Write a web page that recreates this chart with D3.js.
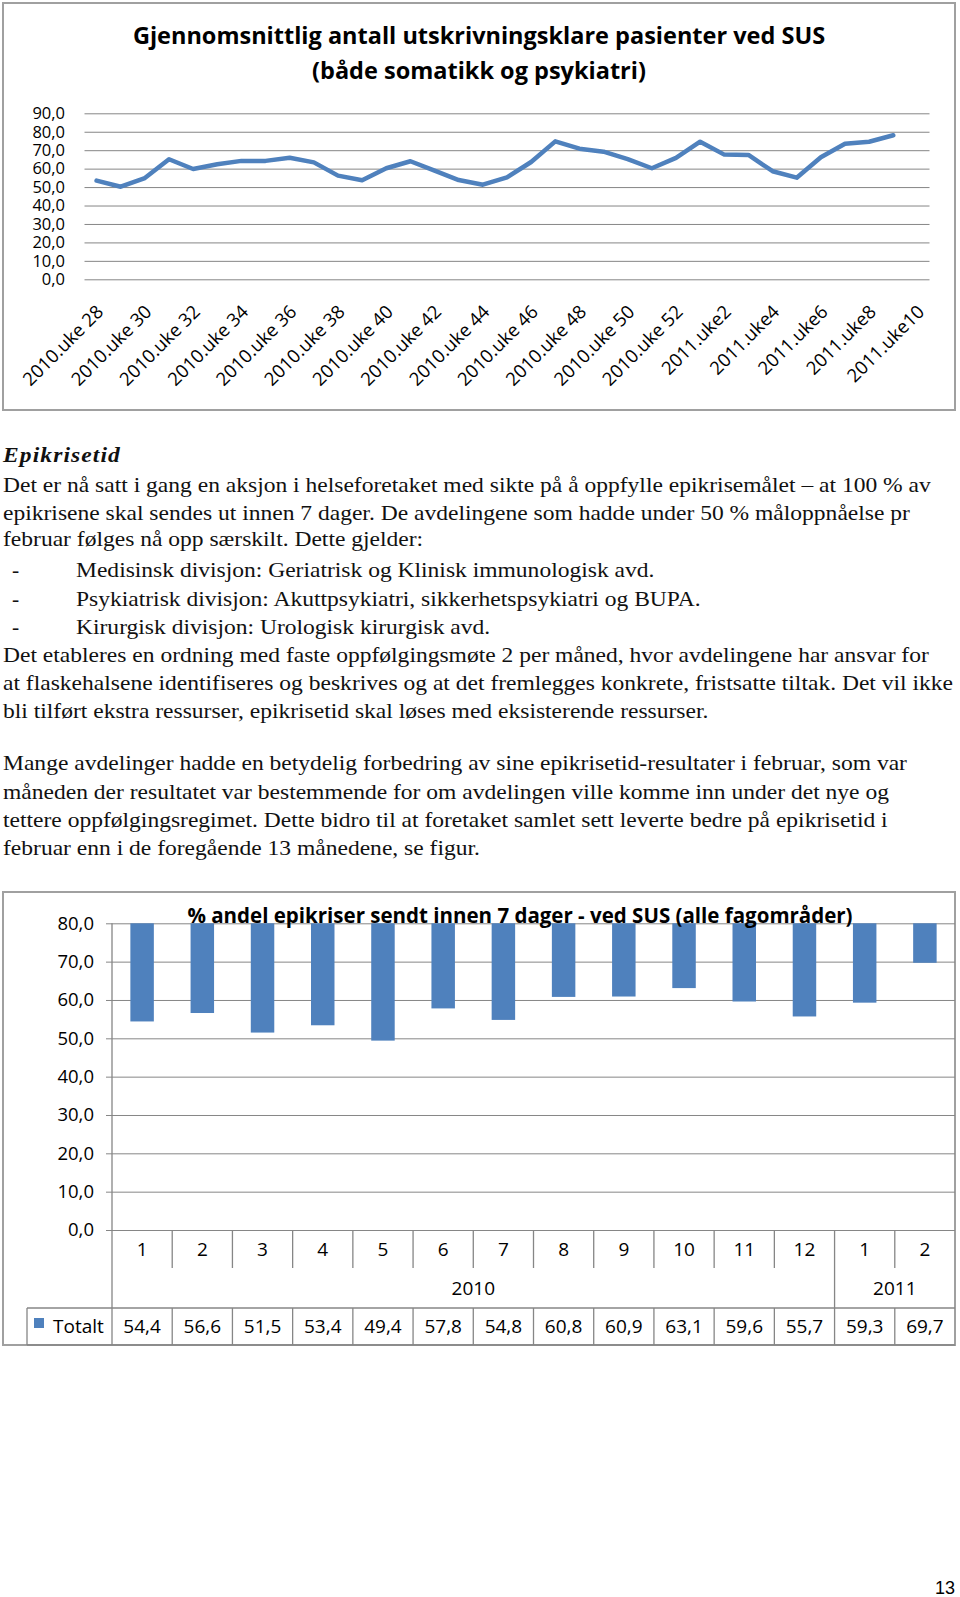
<!DOCTYPE html>
<html>
<head>
<meta charset="utf-8">
<script src="https://cdn.jsdelivr.net/npm/d3@7"></script>
<style>
  body { margin: 0; background: #fff; }
  svg text { font-family: "Open Sans", sans-serif; fill: #000; }
  .body-text text { font-family: "Liberation Serif", serif; fill: #111; font-size: 21.5px; }
  .grid line { stroke: #868686; stroke-width: 1; }
  .grid .domain { display: none; }
</style>
</head>
<body>
<svg id="page" width="960" height="1597"></svg>
<script>
// ---- chart 1: weekly average
const weekCats = [
  "2010.uke 28","2010.uke 29","2010.uke 30","2010.uke 31","2010.uke 32","2010.uke 33",
  "2010.uke 34","2010.uke 35","2010.uke 36","2010.uke 37","2010.uke 38","2010.uke 39",
  "2010.uke 40","2010.uke 41","2010.uke 42","2010.uke 43","2010.uke 44","2010.uke 45",
  "2010.uke 46","2010.uke 47","2010.uke 48","2010.uke 49","2010.uke 50","2010.uke 51",
  "2010.uke 52","2011.uke1","2011.uke2","2011.uke3","2011.uke4","2011.uke5",
  "2011.uke6","2011.uke7","2011.uke8","2011.uke9","2011.uke10"
];
const weekValues = [
  53.5, 50.2, 54.9, 65.1, 59.8, 62.4, 64.2, 64.2, 65.9, 63.4, 56.2, 53.7,
  60.2, 64.0, 58.9, 53.8, 51.3, 55.3, 63.6, 74.8, 70.8, 69.2, 65.1, 60.2,
  65.8, 74.6, 67.6, 67.4, 58.6, 55.1, 66.2, 73.5, 74.6, 78.1
];
const weekTicks = [0, 10, 20, 30, 40, 50, 60, 70, 80, 90];

// ---- chart 2: monthly share
const monthLabels = ["1","2","3","4","5","6","7","8","9","10","11","12","1","2"];
const yearLabels = ["2010", "2011"];
const yearMonths = [12, 2];
const shareValues = [54.4, 56.6, 51.5, 53.4, 49.4, 57.8, 54.8, 60.8, 60.9, 63.1, 59.6, 55.7, 59.3, 69.7];
const shareTicks = [0, 10, 20, 30, 40, 50, 60, 70, 80];

const blue = "#4f81bd";
const gridColor = "#868686";
const frameColor = "#a0a0a0";

const nb = d3.formatLocale({decimal: ",", thousands: " ", grouping: [3], currency: ["", ""]});
const fmt = nb.format(".1f");

const svg = d3.select("#page");

// ================= chart 1 =================
svg.append("rect")
  .attr("x", 3).attr("y", 3).attr("width", 952).attr("height", 407)
  .attr("fill", "none").attr("stroke", frameColor).attr("stroke-width", 2);

svg.append("text")
  .attr("x", 479).attr("y", 43.5)
  .attr("text-anchor", "middle")
  .style("font-weight", "bold").style("font-size", "23.5px")
  .text("Gjennomsnittlig antall utskrivningsklare pasienter ved SUS");
svg.append("text")
  .attr("x", 479).attr("y", 78.5)
  .attr("text-anchor", "middle")
  .style("font-weight", "bold").style("font-size", "23.5px")
  .text("(både somatikk og psykiatri)");

const x1 = d3.scaleBand().domain(weekCats).range([84.5, 929.5]);
const y1 = d3.scaleLinear().domain([0, 90]).range([279.3, 113.3]);

const g1 = svg.append("g")
  .attr("class", "grid")
  .attr("transform", "translate(84.5,0)")
  .call(d3.axisLeft(y1)
    .tickValues(weekTicks)
    .tickSizeInner(-(929.5 - 84.5))
    .tickSizeOuter(0)
    .tickPadding(19.5)
    .tickFormat(fmt));
g1.selectAll("text").style("font-size", "16.5px").style("font-family", "Open Sans").attr("fill", "#000");

svg.append("path")
  .datum(weekValues)
  .attr("fill", "none")
  .attr("stroke", blue)
  .attr("stroke-width", 4.5)
  .attr("stroke-linejoin", "round")
  .attr("stroke-linecap", "round")
  .attr("d", d3.line()
    .x((d, i) => x1(weekCats[i]) + x1.bandwidth() / 2)
    .y(d => y1(d)));

svg.append("g").selectAll("text")
  .data(weekCats.filter((c, i) => i % 2 === 0))
  .join("text")
  .attr("text-anchor", "end")
  .attr("transform", c => `translate(${x1(c) + x1.bandwidth() / 2 + 8},313) rotate(-45)`)
  .style("font-size", "18.5px")
  .text(c => c);

// ================= body text =================
const stretch = 1.095;
const textBlock = svg.append("g").attr("class", "body-text");
textBlock.append("text")
  .attr("transform", `translate(3,462) scale(${stretch},1)`)
  .style("font-weight", "bold").style("font-style", "italic")
  .style("letter-spacing", "1px")
  .text("Epikrisetid");

const paraLines = [
  {t: "Det er nå satt i gang en aksjon i helseforetaket med sikte på å oppfylle epikrisemålet – at 100 % av", y: 491.5},
  {t: "epikrisene skal sendes ut innen 7 dager. De avdelingene som hadde under 50 % måloppnåelse pr", y: 519.5},
  {t: "februar følges nå opp særskilt. Dette gjelder:", y: 546},
  {t: "Medisinsk divisjon: Geriatrisk og Klinisk immunologisk avd.", y: 576.5, b: true},
  {t: "Psykiatrisk divisjon: Akuttpsykiatri, sikkerhetspsykiatri og BUPA.", y: 605.5, b: true},
  {t: "Kirurgisk divisjon: Urologisk kirurgisk avd.", y: 634, b: true},
  {t: "Det etableres en ordning med faste oppfølgingsmøte 2 per måned, hvor avdelingene har ansvar for", y: 662},
  {t: "at flaskehalsene identifiseres og beskrives og at det fremlegges konkrete, fristsatte tiltak. Det vil ikke", y: 690},
  {t: "bli tilført ekstra ressurser, epikrisetid skal løses med eksisterende ressurser.", y: 718},
  {t: "Mange avdelinger hadde en betydelig forbedring av sine epikrisetid-resultater i februar, som var", y: 770},
  {t: "måneden der resultatet var bestemmende for om avdelingen ville komme inn under det nye og", y: 798.5},
  {t: "tettere oppfølgingsregimet. Dette bidro til at foretaket samlet sett leverte bedre på epikrisetid i", y: 826.5},
  {t: "februar enn i de foregående 13 månedene, se figur.", y: 855}
];
paraLines.forEach(l => {
  if (l.b) {
    textBlock.append("text").attr("x", 12).attr("y", l.y).text("-");
  }
  textBlock.append("text")
    .attr("transform", `translate(${l.b ? 76 : 3},${l.y}) scale(${stretch},1)`)
    .text(l.t);
});

// ================= chart 2 =================
svg.append("rect")
  .attr("x", 3).attr("y", 892).attr("width", 952).attr("height", 453)
  .attr("fill", "none").attr("stroke", frameColor).attr("stroke-width", 2);

const idx = monthLabels.map((m, i) => i);
const x2 = d3.scaleBand().domain(idx).range([112, 955]).paddingInner(0.61).paddingOuter(0.305);
const xc = d3.scaleBand().domain(idx).range([112, 955]);
const y2 = d3.scaleLinear().domain([0, 80]).range([1230, 923.3]);

svg.append("g")
  .attr("class", "grid")
  .attr("transform", "translate(112,0)")
  .call(d3.axisLeft(y2).tickValues(shareTicks).tickSizeInner(-843).tickSizeOuter(0).tickFormat(""));
svg.append("g")
  .attr("class", "grid")
  .attr("transform", "translate(112,0)")
  .call(d3.axisLeft(y2).tickValues(shareTicks).tickSizeInner(6).tickSizeOuter(0).tickPadding(12).tickFormat(fmt))
  .selectAll("text").style("font-size", "18.5px").style("font-family", "Open Sans").attr("fill", "#000");

svg.append("g").selectAll("rect")
  .data(shareValues)
  .join("rect")
  .attr("x", (d, i) => x2(i))
  .attr("width", x2.bandwidth())
  .attr("y", y2(80))
  .attr("height", d => y2(d) - y2(80))
  .attr("fill", blue);

svg.append("text")
  .attr("x", 520).attr("y", 922.5)
  .attr("text-anchor", "middle")
  .style("font-weight", "bold").style("font-size", "20.5px")
  .text("% andel epikriser sendt innen 7 dager - ved SUS (alle fagområder)");

// table lines
const tbl = svg.append("g").attr("stroke", gridColor).attr("stroke-width", 1.3);
tbl.selectAll(".sep")
  .data(idx.slice(1))
  .join("line")
  .attr("x1", i => xc(i)).attr("x2", i => xc(i))
  .attr("y1", y2(0))
  .attr("y2", i => (i === yearMonths[0] ? 1308 : 1268));
tbl.append("line").attr("x1", 112).attr("x2", 112).attr("y1", y2(80)).attr("y2", 1345);
tbl.append("line").attr("x1", 27).attr("x2", 955).attr("y1", 1308).attr("y2", 1308);
tbl.append("line").attr("x1", 27).attr("x2", 955).attr("y1", 1345).attr("y2", 1345);
tbl.append("line").attr("x1", 27).attr("x2", 27).attr("y1", 1308).attr("y2", 1345);
tbl.selectAll(".cell")
  .data(idx.slice(1))
  .join("line")
  .attr("x1", i => xc(i)).attr("x2", i => xc(i))
  .attr("y1", 1308).attr("y2", 1345);

svg.append("g").selectAll("text")
  .data(monthLabels)
  .join("text")
  .attr("x", (d, i) => xc(i) + xc.bandwidth() / 2)
  .attr("y", 1256)
  .attr("text-anchor", "middle")
  .style("font-size", "19px")
  .text(d => d);

let start = 0;
yearLabels.forEach((yl, k) => {
  const n = yearMonths[k];
  const x0 = xc(start), xEnd = xc(start + n - 1) + xc.bandwidth();
  svg.append("text")
    .attr("x", (x0 + xEnd) / 2).attr("y", 1295)
    .attr("text-anchor", "middle")
    .style("font-size", "19px")
    .text(yl);
  start += n;
});

svg.append("g").selectAll("text")
  .data(shareValues)
  .join("text")
  .attr("x", (d, i) => xc(i) + xc.bandwidth() / 2)
  .attr("y", 1333)
  .attr("text-anchor", "middle")
  .style("font-size", "19px")
  .text(d => fmt(d));

svg.append("rect").attr("x", 34).attr("y", 1318).attr("width", 10).attr("height", 10).attr("fill", blue);
svg.append("text").attr("x", 53).attr("y", 1333).style("font-size", "19px").text("Totalt");

// page number
svg.append("text")
  .attr("x", 955).attr("y", 1594)
  .attr("text-anchor", "end")
  .style("font-family", "Liberation Sans")
  .style("font-size", "18px")
  .text("13");
</script>
</body>
</html>
